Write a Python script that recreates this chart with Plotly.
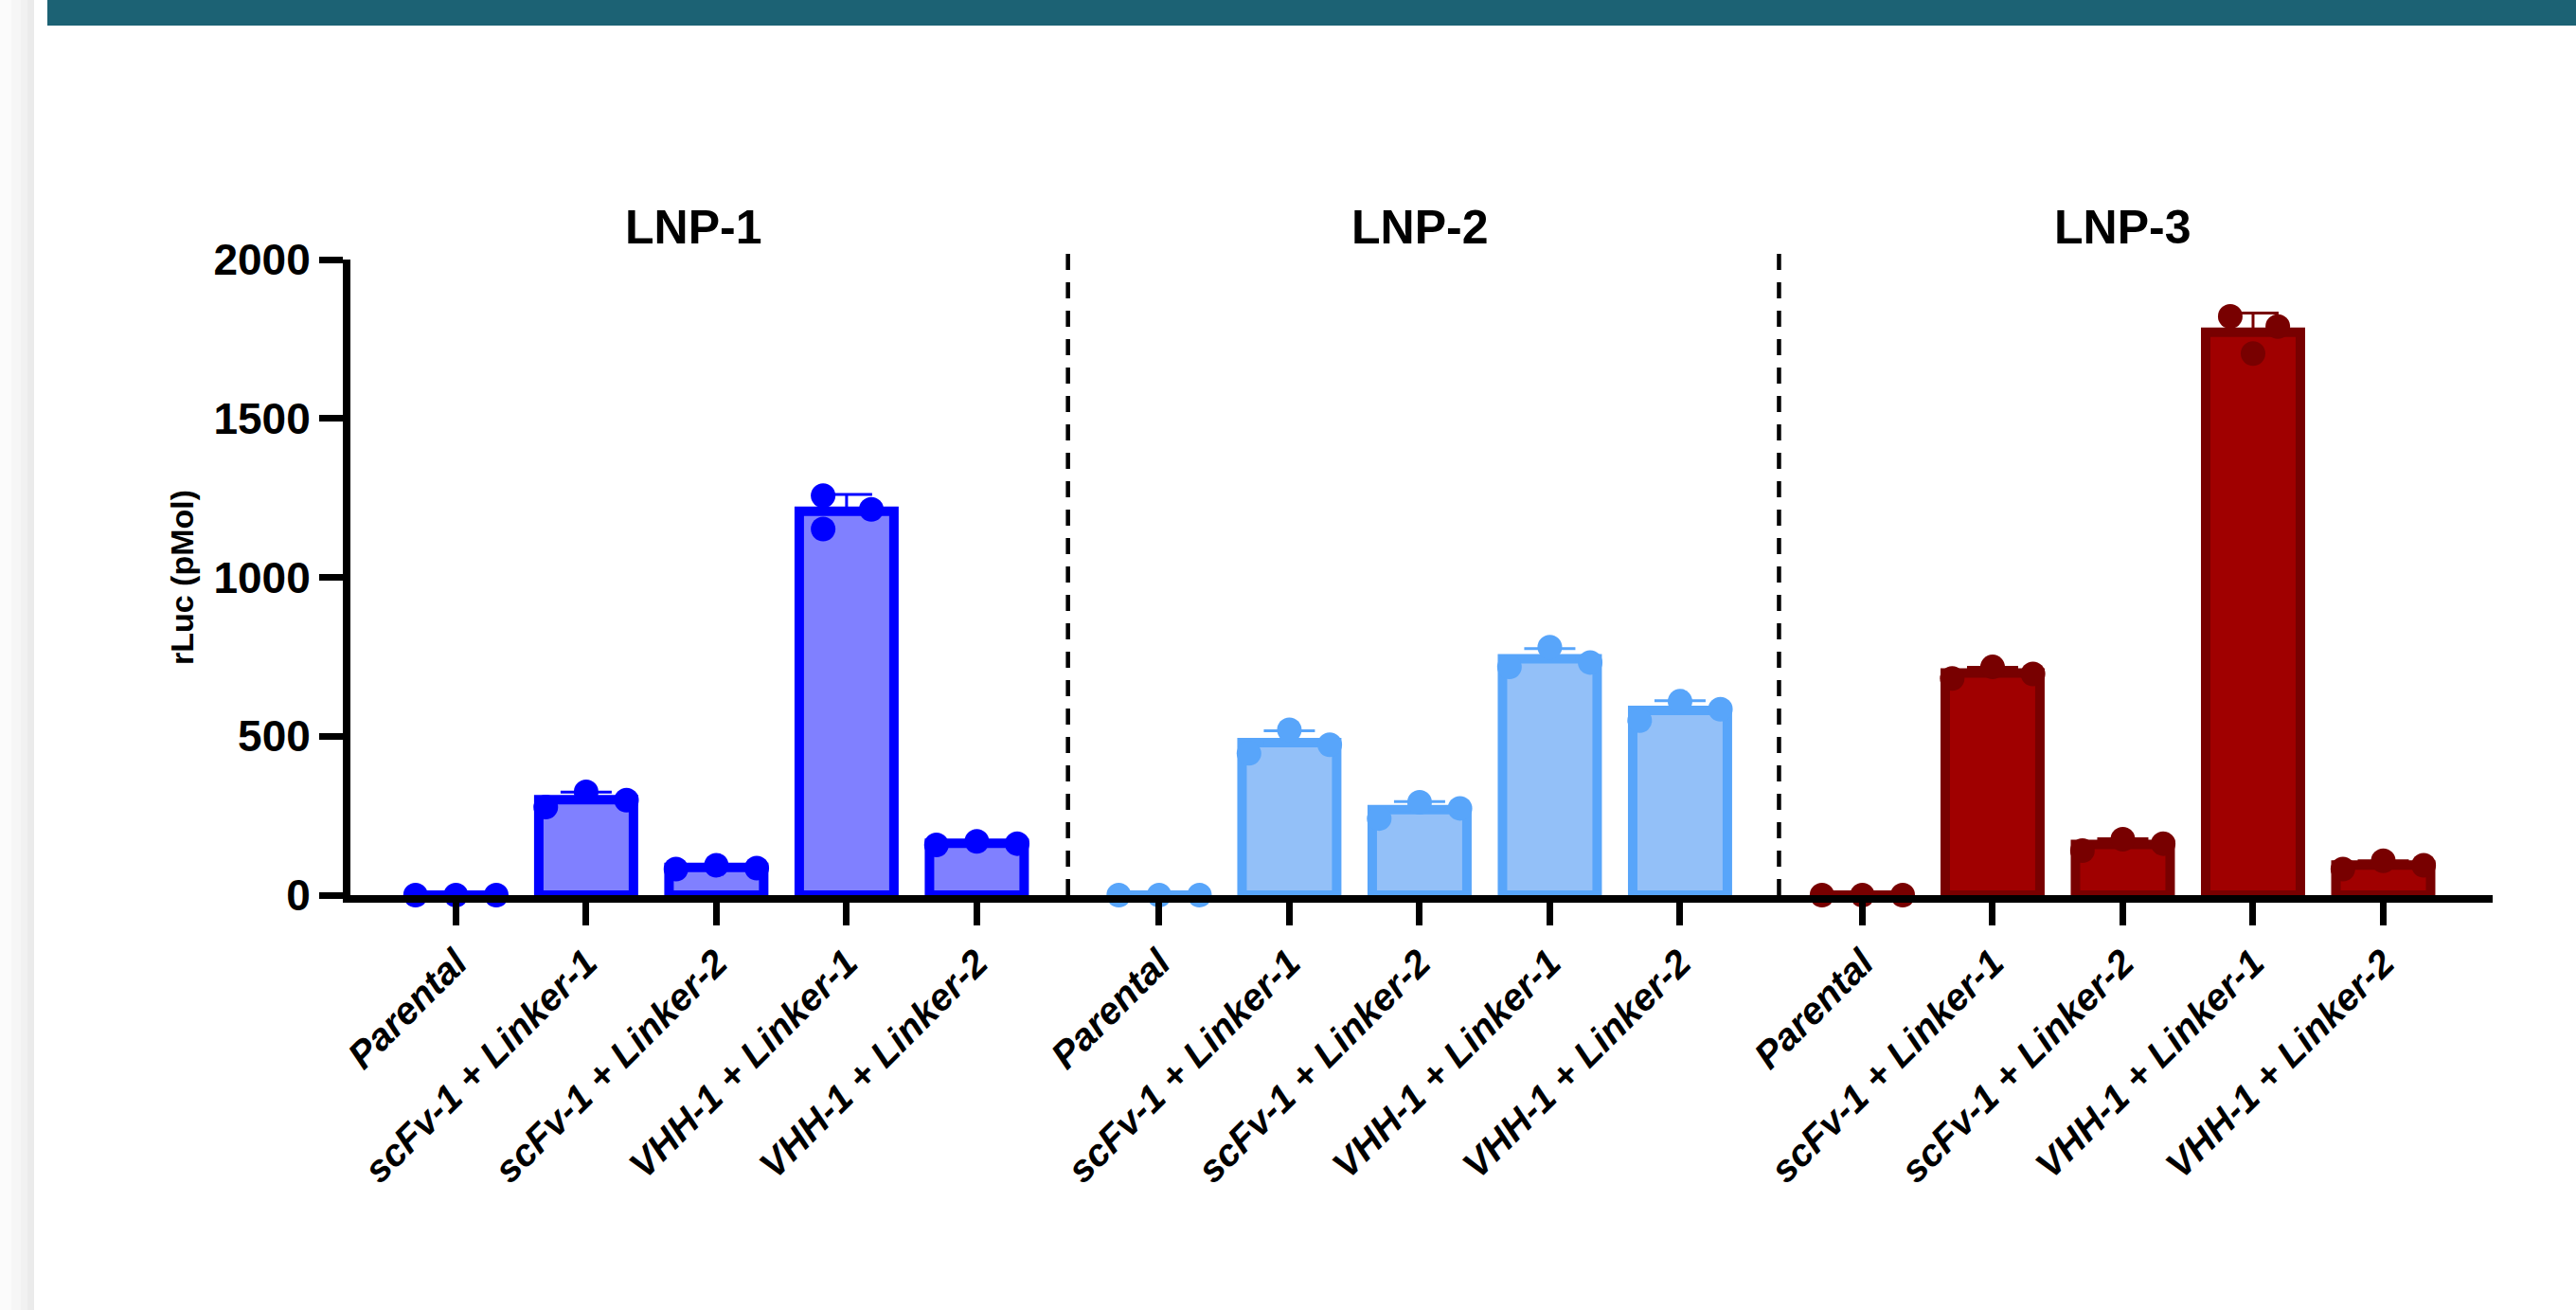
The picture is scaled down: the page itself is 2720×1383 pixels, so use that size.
import numpy as np
import plotly.graph_objects as go

# ---------------- data ----------------
GROUPS = ["LNP-1", "LNP-2", "LNP-3"]
CATEGORIES = ["Parental", "scFv-1 + Linker-1", "scFv-1 + Linker-2",
              "VHH-1 + Linker-1", "VHH-1 + Linker-2"]

# three replicates per category (rLuc, pMol)
LNP1 = [[0, 0, 0], [277, 325, 299], [82, 94, 85], [1257, 1214, 1152], [158, 169, 162]]
LNP2 = [[0, 0, 0], [446, 520, 473], [241, 292, 273], [718, 780, 732], [549, 610, 585]]
LNP3 = [[0, 0, 0], [682, 718, 696], [140, 176, 162], [1821, 1789, 1704], [82, 108, 94]]
DATA = [LNP1, LNP2, LNP3]

Y_TICKS = [0, 500, 1000, 1500, 2000]

# ---------------- style ----------------
W, H = 2720, 1383
ML, MR, MT, MB = 370, 88, 274, 438
FONT = "Liberation Sans, Arial, sans-serif"
GROUP_STEP = 5.4           # category slots between group starts
BAR_WIDTH = 0.727
FILLS = ["#8080FF", "#93C0F8", "#A00000"]
EDGES = ["#0000FF", "#58A5FA", "#780000"]
JITTER_DEFAULT = [-0.31, 0.0, 0.31]
JITTER_SPECIAL = {(0, 3): [-0.18, 0.19, -0.18], (2, 3): [-0.175, 0.19, 0.0]}
TITLE_SHIFT = [-0.18, 0.0, 0.0]
DIVIDERS = [4.7, 10.16]

PW = W - ML - MR
PH = H - MT - MB


def px_x(px):
    return (px - ML) / PW


def px_y(py):
    return (H - MB - py) / PH


fig = go.Figure()

tickvals, ticktext = [], []
for g, (grp, reps) in enumerate(zip(GROUPS, DATA)):
    xs = [g * GROUP_STEP + i for i in range(len(CATEGORIES))]
    tickvals += xs
    ticktext += CATEGORIES
    arr = np.array(reps, dtype=float)
    means = arr.mean(axis=1)
    sds = arr.std(axis=1, ddof=1)
    fig.add_trace(go.Bar(
        x=xs, y=means, width=BAR_WIDTH,
        marker=dict(color=FILLS[g], line=dict(color=EDGES[g], width=10)),
        error_y=dict(type="data", array=sds, arrayminus=[0] * len(xs),
                     symmetric=False, color=EDGES[g], thickness=3, width=27),
        cliponaxis=False, hoverinfo="skip",
    ))
    dx, dy = [], []
    for i, row in enumerate(reps):
        jit = JITTER_SPECIAL.get((g, i), JITTER_DEFAULT)
        for k, v in enumerate(row):
            dx.append(xs[i] + jit[k])
            dy.append(v)
    fig.add_trace(go.Scatter(
        x=dx, y=dy, mode="markers",
        marker=dict(size=26, color=EDGES[g], line=dict(width=0)),
        cliponaxis=False, hoverinfo="skip",
    ))
    fig.add_annotation(
        x=xs[2] + TITLE_SHIFT[g], xref="x", y=px_y(240), yref="paper",
        text=grp, showarrow=False, yanchor="middle", xanchor="center",
        font=dict(family=FONT, size=50, color="black", weight="bold"),
    )

shapes = []
for d in DIVIDERS:
    shapes.append(dict(type="line", xref="x", yref="paper", x0=d, x1=d,
                       y0=0, y1=px_y(258),
                       line=dict(color="black", width=4.5, dash="17px,13px")))
# page decoration: header band and left shadow strip
shapes.append(dict(type="rect", xref="paper", yref="paper", layer="below",
                   x0=px_x(50), x1=px_x(W + 5), y0=px_y(27), y1=px_y(-5),
                   fillcolor="#1C6274", line=dict(width=0)))
for (a, b, c) in [(0, 12, "#fbfbfb"), (12, 22, "#f6f6f6"), (22, 29, "#f1f1f1"), (29, 36, "#ebebeb")]:
    shapes.append(dict(type="rect", xref="paper", yref="paper", layer="below",
                       x0=px_x(a), x1=px_x(b), y0=px_y(H + 5), y1=px_y(-5),
                       fillcolor=c, line=dict(width=0)))

fig.update_layout(
    width=W, height=H,
    margin=dict(l=ML, r=MR, t=MT, b=MB, autoexpand=False),
    paper_bgcolor="white", plot_bgcolor="white",
    showlegend=False, barmode="overlay",
    shapes=shapes,
    xaxis=dict(
        range=[-0.81, 15.64], tickmode="array", tickvals=tickvals, ticktext=ticktext,
        tickangle=-45, ticks="outside", ticklen=24, tickwidth=7, tickcolor="black",
        showline=True, linewidth=8, linecolor="black",
        showgrid=False, zeroline=False, automargin=False,
        tickfont=dict(family=FONT, size=40, color="black", weight="bold", style="italic"),
    ),
    yaxis=dict(
        range=[0, 2000], tickmode="array", tickvals=Y_TICKS,
        ticks="outside", ticklen=25, tickwidth=7, tickcolor="black",
        showline=True, linewidth=8, linecolor="black",
        showgrid=False, zeroline=False, automargin=False,
        tickfont=dict(family=FONT, size=46, color="black", weight="bold"),
        title=dict(text="rLuc (pMol)", standoff=14,
                   font=dict(family=FONT, size=34, color="black", weight="bold")),
    ),
)

fig.write_html("out.html",
               config={"displayModeBar": False},
               post_script="document.body.style.margin='0';document.body.style.overflow='hidden';")
